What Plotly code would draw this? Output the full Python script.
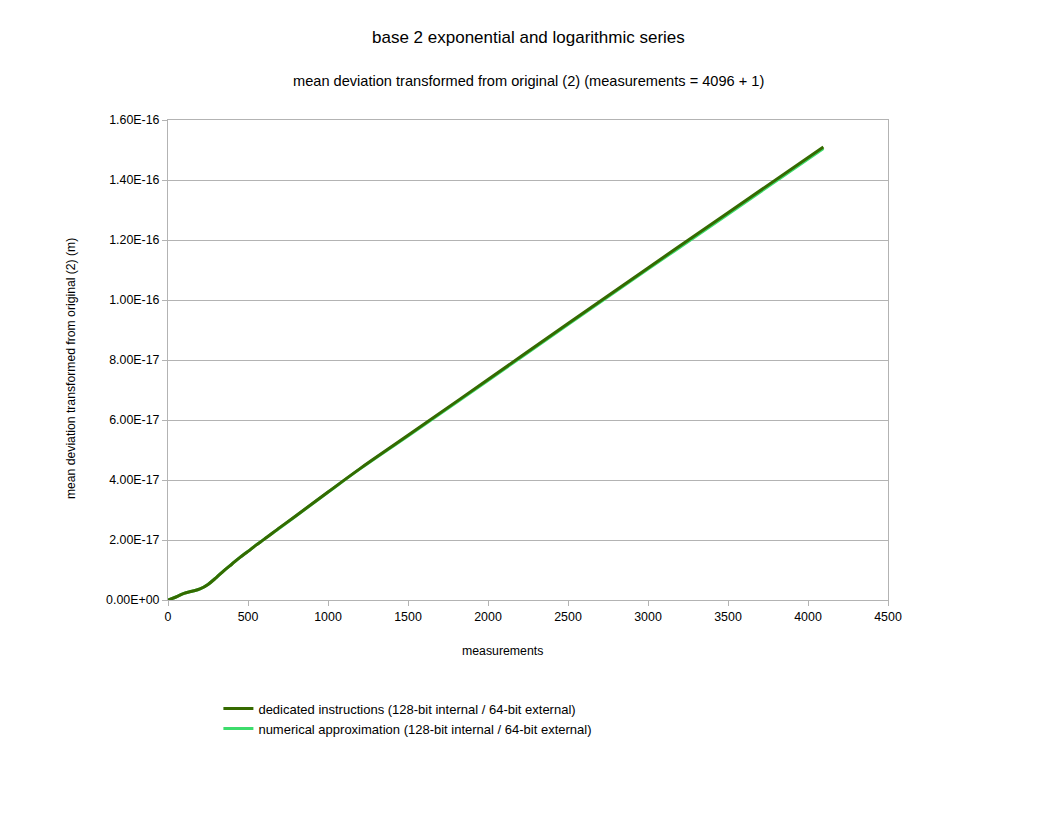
import plotly.graph_objects as go

# values
measurements = [0, 50, 100, 150, 200, 250, 300, 350, 400, 450, 500, 550, 600,
                700, 800, 1000, 1200, 1500, 2000, 2500, 3000, 3500, 4096]
dedicated = [0.0, 0.10e-17, 0.22e-17, 0.29e-17, 0.37e-17, 0.52e-17, 0.74e-17,
             0.98e-17, 1.20e-17, 1.42e-17, 1.62e-17, 1.83e-17, 2.02e-17,
             2.42e-17, 2.81e-17, 3.60e-17, 4.38e-17, 5.49e-17, 7.35e-17,
             9.22e-17, 11.07e-17, 12.91e-17, 15.10e-17]
numerical = [0.0, 0.10e-17, 0.22e-17, 0.29e-17, 0.37e-17, 0.52e-17, 0.74e-17,
             0.98e-17, 1.20e-17, 1.42e-17, 1.62e-17, 1.83e-17, 2.02e-17,
             2.41e-17, 2.80e-17, 3.59e-17, 4.37e-17, 5.47e-17, 7.32e-17,
             9.18e-17, 11.03e-17, 12.86e-17, 15.05e-17]

y_ticks = [0, 2e-17, 4e-17, 6e-17, 8e-17, 1.0e-16, 1.2e-16, 1.4e-16, 1.6e-16]
y_tick_text = [f"{v:.2E}" for v in y_ticks]

title = "base 2 exponential and logarithmic series"
subtitle = "mean deviation transformed from original (2) (measurements = 4096 + 1)"
x_title = "measurements"
y_title = "mean deviation transformed from original (2) (m)"

fig = go.Figure()
fig.add_trace(go.Scatter(
    x=measurements, y=numerical, mode="lines", line_shape="spline",
    name="numerical approximation (128-bit internal / 64-bit external)",
    line=dict(color="#3ddc6c", width=3), legendrank=2,
))
fig.add_trace(go.Scatter(
    x=measurements, y=dedicated, mode="lines", line_shape="spline",
    name="dedicated instructions (128-bit internal / 64-bit external)",
    line=dict(color="#356a00", width=3), legendrank=1,
))

axis_common = dict(
    showline=True, linecolor="#b3b3b3", linewidth=1, mirror=True,
    gridcolor="#b3b3b3", gridwidth=1,
    ticks="outside", ticklen=5, tickcolor="#b3b3b3",
    tickfont=dict(size=12.4, color="#000000"), zeroline=False,
)

# the page puts the figure 8px in from the corner, so margins are 8px smaller
fig.update_layout(
    width=1056, height=816,
    margin=dict(l=160, r=176, t=112, b=224),
    paper_bgcolor="white", plot_bgcolor="white",
    font=dict(family="Liberation Sans, Arial, sans-serif", color="#000000"),
    showlegend=True,
    legend=dict(x=0.07, y=-0.195, xanchor="left", yanchor="top",
                font=dict(size=13), itemwidth=30),
    xaxis=dict(axis_common, showgrid=False, range=[0, 4500], dtick=500),
    yaxis=dict(axis_common, showgrid=True, range=[0, 1.6e-16],
               tickvals=y_ticks, ticktext=y_tick_text),
    annotations=[
        dict(text=title, xref="paper", yref="paper", x=0.5, y=1.0, yshift=83,
             showarrow=False, font=dict(size=17), yanchor="middle"),
        dict(text=subtitle, xref="paper", yref="paper", x=0.5, y=1.0, yshift=39,
             showarrow=False, font=dict(size=14.6), yanchor="middle"),
        # axis titles sit a little off-centre in the reference
        dict(text=x_title, xref="paper", yref="paper", x=0.464, y=0, yshift=-51,
             showarrow=False, font=dict(size=12.3), yanchor="middle"),
        dict(text=y_title, xref="paper", yref="paper", x=0, y=0.481, xshift=-97,
             showarrow=False, font=dict(size=12.2), textangle=-90,
             xanchor="center", yanchor="middle"),
    ],
)

fig.write_html("out.html")
